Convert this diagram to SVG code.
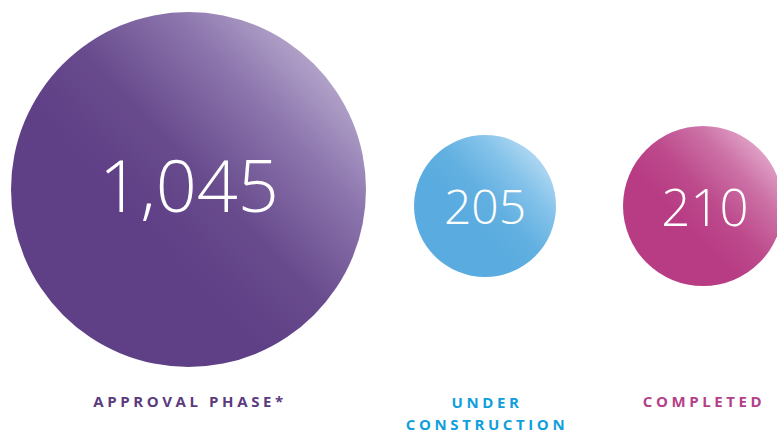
<svg xmlns="http://www.w3.org/2000/svg" width="777" height="433" viewBox="0 0 777 433">
<style>
.num{font-family:"Open Sans","Liberation Sans",sans-serif;font-weight:300;fill:#ffffff;text-anchor:middle}
.lbl{font-family:"Open Sans","Liberation Sans",sans-serif;font-weight:700;font-size:15px;letter-spacing:3.6px;text-anchor:middle}
</style>
<defs>
<linearGradient id="gP" x1="1" y1="0.1" x2="0.15" y2="0.9">
<stop offset="0" stop-color="#c9bddb"/>
<stop offset="0.12" stop-color="#b0a1c8"/>
<stop offset="0.28" stop-color="#8c75ad"/>
<stop offset="0.5" stop-color="#684b8d"/>
<stop offset="0.68" stop-color="#5f3f86"/>
<stop offset="1" stop-color="#5f3f86"/>
</linearGradient>
<linearGradient id="gB" x1="1" y1="0.1" x2="0.15" y2="0.9">
<stop offset="0" stop-color="#c6e4f6"/>
<stop offset="0.12" stop-color="#acd6f1"/>
<stop offset="0.28" stop-color="#85c3ea"/>
<stop offset="0.5" stop-color="#62b0e1"/>
<stop offset="0.68" stop-color="#5aabdf"/>
<stop offset="1" stop-color="#5aabdf"/>
</linearGradient>
<linearGradient id="gK" x1="1" y1="0.1" x2="0.15" y2="0.9">
<stop offset="0" stop-color="#eccbdd"/>
<stop offset="0.12" stop-color="#df9fc4"/>
<stop offset="0.28" stop-color="#cc71a6"/>
<stop offset="0.5" stop-color="#bd4a8c"/>
<stop offset="0.68" stop-color="#b83c84"/>
<stop offset="1" stop-color="#b83c84"/>
</linearGradient>
</defs>
<g id="approval">
<circle cx="188.5" cy="189.5" r="177.5" fill="url(#gP)"/>
<text class="num" x="189" y="212" font-size="72">1,045</text>
<text class="lbl" x="190" y="407" fill="#5b3a7e">APPROVAL PHASE*</text>
</g>
<g id="construction">
<circle cx="485" cy="206" r="71" fill="url(#gB)"/>
<text class="num" x="485" y="224" font-size="48">205</text>
<text class="lbl" x="487" y="408" fill="#0fa0db">UNDER</text>
<text class="lbl" x="487" y="430" fill="#0fa0db">CONSTRUCTION</text>
</g>
<g id="completed">
<circle cx="703" cy="206" r="80" fill="url(#gK)"/>
<text class="num" x="705" y="226" font-size="51">210</text>
<text class="lbl" x="704" y="407" fill="#b5408a">COMPLETED</text>
</g>
<g id="connectors"/>
</svg>
